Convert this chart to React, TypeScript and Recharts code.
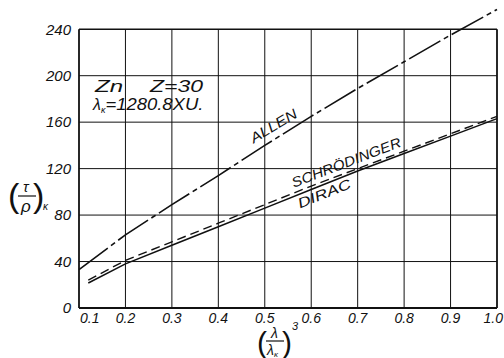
import React from 'react';
import { LineChart, Line, XAxis, YAxis, ReferenceLine } from 'recharts';

// readings
const xTicks = [0.1, 0.2, 0.3, 0.4, 0.5, 0.6, 0.7, 0.8, 0.9, 1.0];
const yTicks = [0, 40, 80, 120, 160, 200, 240];

const allenX = [0.1, 0.2, 0.3, 0.4, 0.5, 0.6, 0.7, 0.8, 0.9, 1.0];
const allenY = [33, 63, 89, 114, 140, 165, 189, 212, 235, 257];

const lowerX = [0.12, 0.2, 0.3, 0.4, 0.5, 0.6, 0.7, 0.8, 0.9, 1.0];
const schrodingerY = [24, 41, 57, 73, 89, 105, 120, 135, 150, 165];
const diracY = [21.5, 38, 54, 70, 86, 102, 118, 133, 148, 163];

const allenData = allenX.map((x, i) => ({ x, y: allenY[i] }));
const schrodingerData = lowerX.map((x, i) => ({ x, y: schrodingerY[i] }));
const diracData = lowerX.map((x, i) => ({ x, y: diracY[i] }));

const FONT = '"Liberation Sans", Arial, sans-serif';
const INK = '#111';

// x tick: first label starts right of the frame, last one ends at the page edge
const XTick = (props: any) => {
  const { x, y, payload } = props;
  const v = payload.value as number;
  const first = v === xTicks[0];
  const last = v === xTicks[xTicks.length - 1];
  return (
    <text
      x={first ? x + 1 : last ? x + 6 : x}
      y={y}
      dy="0.8em"
      textAnchor={first ? 'start' : last ? 'end' : 'middle'}
      fill={INK}
      fontSize={14}
      fontStyle="italic"
    >
      {v.toFixed(1)}
    </text>
  );
};

const Overlay: React.FC = () => (
  <svg
    width={504}
    height={358}
    style={{ position: 'absolute', left: 0, top: 0, pointerEvents: 'none' }}
    fontFamily={FONT}
    fontStyle="italic"
    fill={INK}
  >
    {/* element note */}
    <text x={95} y={92} fontSize={17} textLength={28} lengthAdjust="spacingAndGlyphs">Zn</text>
    <text x={150} y={92} fontSize={17} textLength={53} lengthAdjust="spacingAndGlyphs">Z=30</text>
    <text x={93} y={110} fontSize={16}>
      λ<tspan fontSize={9} dy={3}>κ</tspan>
      <tspan dy={-3} textLength={98} lengthAdjust="spacingAndGlyphs">=1280.8XU.</tspan>
    </text>

    {/* curve labels */}
    <text x={276} y={130} fontSize={14} textAnchor="middle" transform="rotate(-31 276 130)" textLength={52} lengthAdjust="spacingAndGlyphs">ALLEN</text>
    <text x={348} y={167} fontSize={14} textAnchor="middle" transform="rotate(-21 348 167)" textLength={116} lengthAdjust="spacingAndGlyphs">SCHRÖDINGER</text>
    <text x={326} y={198} fontSize={14} textAnchor="middle" transform="rotate(-22 326 198)" textLength={56} lengthAdjust="spacingAndGlyphs">DIRAC</text>

    {/* y axis title (tau/rho)_K */}
    <text x={8} y={207} fontSize={34} fontStyle="normal" fontWeight={300}>(</text>
    <text x={23} y={192} fontSize={15}>τ</text>
    <line x1={18} y1={196} x2={36} y2={196} stroke={INK} strokeWidth={1.2} />
    <text x={21} y={212} fontSize={17}>ρ</text>
    <text x={33} y={207} fontSize={34} fontStyle="normal" fontWeight={300}>)</text>
    <text x={43} y={210} fontSize={10}>κ</text>

    {/* x axis title (lambda/lambda_K)^3 */}
    <text x={257} y={353} fontSize={30} fontStyle="normal" fontWeight={300}>(</text>
    <text x={271} y={338} fontSize={14}>λ</text>
    <line x1={266} y1={341} x2={284} y2={341} stroke={INK} strokeWidth={1.2} />
    <text x={267} y={355} fontSize={14}>λ<tspan fontSize={8} dy={2}>κ</tspan></text>
    <text x={282} y={353} fontSize={30} fontStyle="normal" fontWeight={300}>)</text>
    <text x={292} y={330} fontSize={11}>3</text>
  </svg>
);

const App: React.FC = () => {
  return (
    <div
      style={{
        position: 'absolute',
        left: 0,
        top: 0,
        width: 504,
        height: 358,
        background: '#fff',
        fontFamily: FONT,
        fontStyle: 'italic',
      }}
    >
      <LineChart width={504} height={358} margin={{ top: 6, right: 7, left: 0, bottom: 20 }}>
        <XAxis
          type="number"
          dataKey="x"
          domain={[0.1, 1.0]}
          ticks={xTicks}
          height={30}
          tickLine={false}
          tickSize={2}
          tickMargin={2}
          axisLine={{ stroke: INK, strokeWidth: 2 }}
          tick={<XTick />}
        />
        <YAxis
          type="number"
          dataKey="y"
          domain={[0, 260]}
          ticks={yTicks}
          width={79}
          tickLine={false}
          axisLine={false}
          tickSize={5}
          tickMargin={3}
          tick={{ fill: INK, fontSize: 15 }}
        />
        {yTicks.map((t) => (
          <ReferenceLine
            key={'h' + t}
            segment={[{ x: 0.1, y: t }, { x: 1.0, y: t }]}
            stroke={INK}
            strokeWidth={t === 240 ? 1.6 : 1}
          />
        ))}
        {xTicks.map((t) => (
          <ReferenceLine
            key={'v' + t}
            segment={[{ x: t, y: 0 }, { x: t, y: 240 }]}
            stroke={INK}
            strokeWidth={t === 0.1 || t === 1.0 ? 1.8 : 1}
          />
        ))}
        <Line
          data={allenData}
          dataKey="y"
          type="linear"
          stroke={INK}
          strokeWidth={1.6}
          strokeDasharray="36 4 5 4"
          dot={false}
          isAnimationActive={false}
        />
        <Line
          data={schrodingerData}
          dataKey="y"
          type="linear"
          stroke={INK}
          strokeWidth={1.4}
          strokeDasharray="9 5"
          dot={false}
          isAnimationActive={false}
        />
        <Line
          data={diracData}
          dataKey="y"
          type="linear"
          stroke={INK}
          strokeWidth={1.5}
          dot={false}
          isAnimationActive={false}
        />
      </LineChart>
      <Overlay />
    </div>
  );
};

export default App;
